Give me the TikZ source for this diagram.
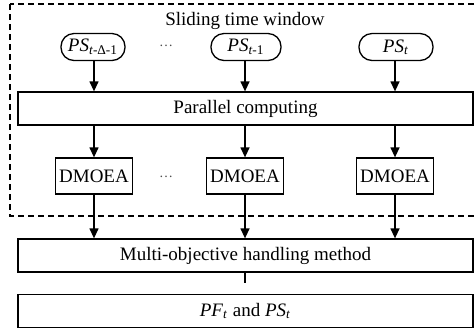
\documentclass[tikz,border=0pt]{standalone}
\usepackage{fontspec}
\setmainfont{Liberation Serif}
\usetikzlibrary{arrows.meta}
\usetikzlibrary{positioning}

\begin{document}
\begin{tikzpicture}
	[x=0.5pt,y=-0.5pt,>={Triangle[length=5pt,width=4.5pt]},
	every node/.style={font=\fontsize{9.5}{11}\selectfont},
	line width=0.65pt,
	pill/.style={rectangle,rounded corners=6.5pt,draw,inner sep=1pt,minimum height=13.5pt,minimum width=32pt},
	widebox/.style={rectangle,draw,inner sep=2pt,minimum width=227.5pt,minimum height=16.5pt},
	algo/.style={rectangle,draw,inner sep=2pt,minimum width=37pt,minimum height=18pt},
	gapdots/.style={font=\fontsize{7}{8}\selectfont,text=black!70}]
	\useasboundingbox (0,0) rectangle (476,329);
	\draw [dashed,dash pattern=on 3pt off 2pt] (10,4) rectangle (490,216);
	\node at (245,21) (window) {Sliding time window};
	\node at (93,47) [pill] (ps1) {\textit{PS}\textsubscript{\textit{t}-Δ-1}};
	\node at (246,47) [pill,minimum width=35pt] (ps2) {\textit{PS}\textsubscript{\textit{t}-1}};
	\node at (396,47) [pill,minimum width=37pt] (ps3) {\textit{PS}\textsubscript{\textit{t}}};
	\node at (166,46) [gapdots] (dots1) {\dots};
	\node at (245.5,108.5) [widebox] (par) {Parallel computing};
	\node at (94,176) [algo] (d1) {DMOEA};
	\node at (245,176) [algo] (d2) {DMOEA};
	\node at (395,176) [algo] (d3) {DMOEA};
	\node at (166,177) [gapdots] (dots2) {\dots};
	\node at (245.5,255.5) [widebox] (multi) {Multi-objective handling method};
	\node at (245.5,311) [widebox] (pf) {\textit{PF}\textsubscript{\textit{t}} and \textit{PS}\textsubscript{\textit{t}}};
	\coordinate (gap) at (245,283);
	\draw [->] (ps1.south -| d1) -- (d1 |- par.north);
	\draw [->] (ps2.south -| d2) -- (d2 |- par.north);
	\draw [->] (ps3.south -| d3) -- (d3 |- par.north);
	\draw [->] (d1 |- par.south) -- (d1);
	\draw [->] (d2 |- par.south) -- (d2);
	\draw [->] (d3 |- par.south) -- (d3);
	\draw [->] (d1) -- (d1 |- multi.north);
	\draw [->] (d2) -- (d2 |- multi.north);
	\draw [->] (d3) -- (d3 |- multi.north);
	\draw (multi.south -| gap) -- (gap);
\end{tikzpicture}
\end{document}
